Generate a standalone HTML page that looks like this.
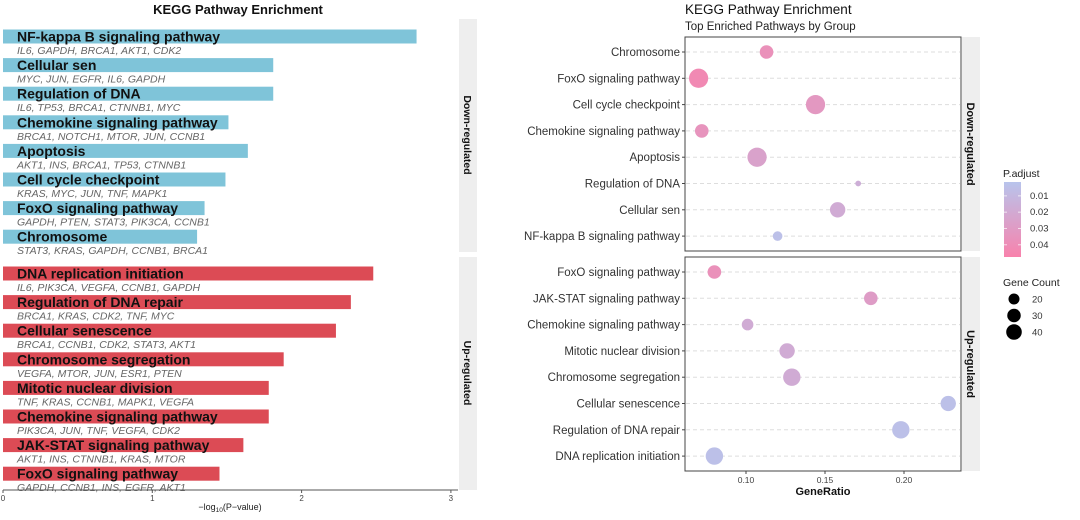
<!DOCTYPE html>
<html><head><meta charset="utf-8">
<style>
body{margin:0;background:#fff;font-family:"Liberation Sans",sans-serif;}
svg{display:block}
</style></head>
<body>
<svg id="c" width="1080" height="520" xmlns="http://www.w3.org/2000/svg"></svg>
<script>
// ---- left bar chart data ----
const downTerms=["NF-kappa B signaling pathway","Cellular sen","Regulation of DNA","Chemokine signaling pathway","Apoptosis","Cell cycle checkpoint","FoxO signaling pathway","Chromosome"];
const downGenes=["IL6, GAPDH, BRCA1, AKT1, CDK2","MYC, JUN, EGFR, IL6, GAPDH","IL6, TP53, BRCA1, CTNNB1, MYC","BRCA1, NOTCH1, MTOR, JUN, CCNB1","AKT1, INS, BRCA1, TP53, CTNNB1","KRAS, MYC, JUN, TNF, MAPK1","GAPDH, PTEN, STAT3, PIK3CA, CCNB1","STAT3, KRAS, GAPDH, CCNB1, BRCA1"];
const downLogP=[2.77,1.81,1.81,1.51,1.64,1.49,1.35,1.30];
const upTerms=["DNA replication initiation","Regulation of DNA repair","Cellular senescence","Chromosome segregation","Mitotic nuclear division","Chemokine signaling pathway","JAK-STAT signaling pathway","FoxO signaling pathway"];
const upGenes=["IL6, PIK3CA, VEGFA, CCNB1, GAPDH","BRCA1, KRAS, CDK2, TNF, MYC","BRCA1, CCNB1, CDK2, STAT3, AKT1","VEGFA, MTOR, JUN, ESR1, PTEN","TNF, KRAS, CCNB1, MAPK1, VEGFA","PIK3CA, JUN, TNF, VEGFA, CDK2","AKT1, INS, CTNNB1, KRAS, MTOR","GAPDH, CCNB1, INS, EGFR, AKT1"];
const upLogP=[2.48,2.33,2.23,1.88,1.78,1.78,1.61,1.45];
const barTicks=[0,1,2,3];
// ---- right dot plot data ----
const dotDownTerms=["Chromosome","FoxO signaling pathway","Cell cycle checkpoint","Chemokine signaling pathway","Apoptosis","Regulation of DNA","Cellular sen","NF-kappa B signaling pathway"];
const dotDownRatio=[0.113,0.070,0.144,0.072,0.107,0.171,0.158,0.120];
const dotDownCount=[22,44,44,22,44,4,28,11];
const dotDownP=[0.040,0.045,0.035,0.038,0.028,0.020,0.022,0.008];
const dotUpTerms=["FoxO signaling pathway","JAK-STAT signaling pathway","Chemokine signaling pathway","Mitotic nuclear division","Chromosome segregation","Cellular senescence","Regulation of DNA repair","DNA replication initiation"];
const dotUpRatio=[0.080,0.179,0.101,0.126,0.129,0.228,0.198,0.080];
const dotUpCount=[22,22,16,28,36,28,36,36];
const dotUpP=[0.040,0.032,0.022,0.022,0.022,0.008,0.008,0.008];
const ratioTicks=[0.10,0.15,0.20];
const pTicks=[0.01,0.02,0.03,0.04];
const countTicks=[20,30,40];

const NS="http://www.w3.org/2000/svg";
const svg=document.getElementById('c');
function el(t,a,txt){const e=document.createElementNS(NS,t);for(const k in a)e.setAttribute(k,a[k]);if(txt!==undefined)e.textContent=txt;svg.appendChild(e);return e;}

// ===== left chart =====
const bx=v=>3+v*149.3;
let t=el('text',{x:238,y:14,'font-size':13,'font-weight':'bold','text-anchor':'middle',fill:'#111'},'KEGG Pathway Enrichment');

function drawBars(terms,genes,vals,top,color,grp){
  terms.forEach((term,i)=>{
    const y=top+i*28.6;
    const r=el('rect',{x:bx(0),y:y,width:bx(vals[i])-bx(0),height:14,fill:color});
    
    const a=el('text',{x:17,y:y+12,'font-size':14,'font-weight':'bold',fill:'#111',textLength:0},term);
    a.removeAttribute('textLength');
    
    const g=el('text',{x:17,y:y+24.5,'font-size':10.5,'font-style':'italic',fill:'#666'},genes[i]);
    
  });
}
drawBars(downTerms,downGenes,downLogP,29.5,'#7fc4d9','down');
drawBars(upTerms,upGenes,upLogP,266.5,'#dc4b55','up');
let s=el('rect',{x:459,y:19,width:18,height:233,fill:'#eeeeee'});
s=el('rect',{x:459,y:257,width:18,height:233,fill:'#eeeeee'});
t=el('text',{transform:'translate(464,135) rotate(90)','font-size':10.5,'font-weight':'bold','text-anchor':'middle',fill:'#111'},'Down-regulated');
t=el('text',{transform:'translate(464,373) rotate(90)','font-size':10.5,'font-weight':'bold','text-anchor':'middle',fill:'#111'},'Up-regulated');
let ln=el('line',{x1:3,x2:458,y1:490,y2:490,stroke:'#555','stroke-width':1});
barTicks.forEach(v=>{
  el('line',{x1:bx(v),x2:bx(v),y1:490,y2:493,stroke:'#555'});
  const tt=el('text',{x:bx(v),y:501,'font-size':8,'text-anchor':'middle',fill:'#444'},String(v));
  
});
t=el('text',{x:230,y:510,'font-size':9,'text-anchor':'middle',fill:'#222'});
t.innerHTML='\u2212log<tspan font-size="6.5" dy="2">10</tspan><tspan dy="-2">(P\u2212value)</tspan>';


// ===== right chart =====
const rx=v=>746+(v-0.10)*1580;
const rr=c=>1.45*Math.sqrt(c);
function pcol(p){const f=Math.max(0,Math.min(1,(p-0.005)/0.045));
  const a=[184,196,236],b=[248,130,172];
  return 'rgb('+a.map((x,i)=>Math.round(x+(b[i]-x)*f)).join(',')+')';}
t=el('text',{x:685,y:14,'font-size':13.5,fill:'#111'},'KEGG Pathway Enrichment');
t=el('text',{x:685,y:30,'font-size':11.5,fill:'#222'},'Top Enriched Pathways by Group');
function panel(terms,ratio,count,p,top,grp,label){
  const pr=el('rect',{x:685,y:top,width:276,height:214,fill:'#fff',stroke:'#444','stroke-width':1});
  
  const sr=el('rect',{x:962,y:top,width:18,height:214,fill:'#eeeeee'});
  const sl=el('text',{transform:'translate(967,'+(top+107)+') rotate(90)','font-size':11,'font-weight':'bold','text-anchor':'middle',fill:'#111'},label);
  
  terms.forEach((term,i)=>{
    const y=top+15+i*26.3;
    el('line',{x1:686,x2:960,y1:y,y2:y,stroke:'#ddd','stroke-dasharray':'4,3'});
    el('line',{x1:682,x2:685,y1:y,y2:y,stroke:'#444'});
    const lt=el('text',{x:680,y:y+4,'font-size':11.5,'text-anchor':'end',fill:'#333'},term);
    
    const c=el('circle',{cx:rx(ratio[i]),cy:y,r:rr(count[i]),fill:pcol(p[i])});
    
  });
}
panel(dotDownTerms,dotDownRatio,dotDownCount,dotDownP,37,'down','Down-regulated');
panel(dotUpTerms,dotUpRatio,dotUpCount,dotUpP,257,'up','Up-regulated');
ratioTicks.forEach(v=>{
  el('line',{x1:rx(v),x2:rx(v),y1:471,y2:474,stroke:'#444'});
  const tt=el('text',{x:rx(v),y:483,'font-size':8.5,'text-anchor':'middle',fill:'#444'},v.toFixed(2));
  
});
t=el('text',{x:823,y:495,'font-size':11,'font-weight':'bold','text-anchor':'middle',fill:'#111'},'GeneRatio');
// legend
const defs=el('defs',{});
defs.innerHTML='<linearGradient id="pg" x1="0" y1="0" x2="0" y2="1"><stop offset="0" stop-color="#b8c4ec"/><stop offset="1" stop-color="#f882ac"/></linearGradient>';
t=el('text',{x:1003,y:177,'font-size':10.5,fill:'#222'},'P.adjust');
const gb=el('rect',{x:1004,y:182,width:17,height:75,fill:'url(#pg)'});
const py=p=>182+(p-0.0015)/0.046*75;
pTicks.forEach(p=>{
  const y=py(p);
  el('line',{x1:1004,x2:1007,y1:y,y2:y,stroke:'#fff','stroke-opacity':0.7});el('line',{x1:1018,x2:1021,y1:y,y2:y,stroke:'#fff','stroke-opacity':0.7});
  const tt=el('text',{x:1030,y:y+3,'font-size':9.5,fill:'#333'},p.toFixed(2));
  
});
t=el('text',{x:1003,y:286,'font-size':10.5,fill:'#222'},'Gene Count');
countTicks.forEach((c,i)=>{
  const y=299+i*16.5;
  const cc=el('circle',{cx:1014,cy:y,r:rr(c)*0.85,fill:'#000'});
  const tt=el('text',{x:1032,y:y+3.5,'font-size':9.5,fill:'#333'},String(c));
  
});
</script>
</body></html>
